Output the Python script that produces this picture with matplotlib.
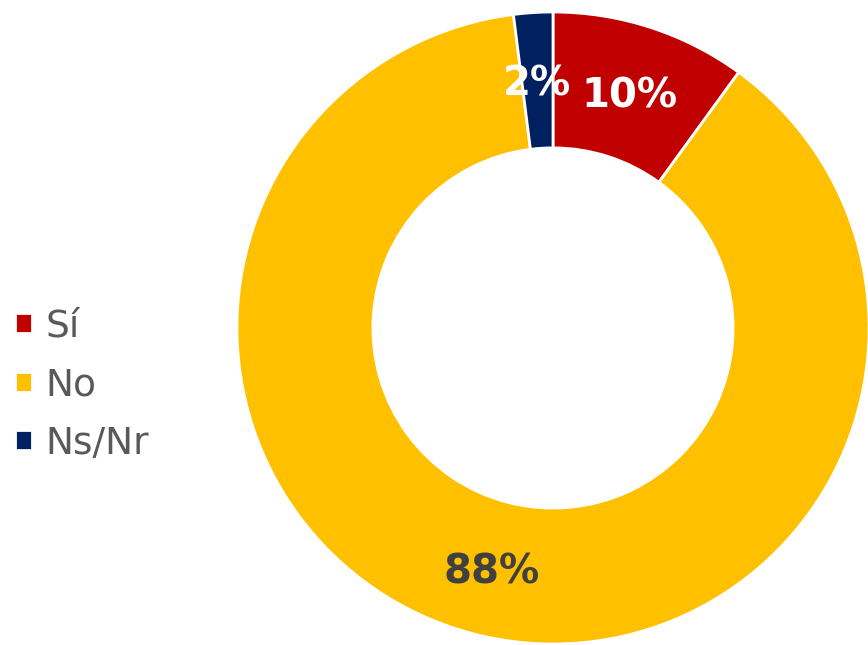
import matplotlib
matplotlib.use('Agg')
import matplotlib.pyplot as plt

# data
labels = ['Sí', 'No', 'Ns/Nr']
values = [10, 88, 2]
colors = ['#C00000', '#FFC000', '#002060']
pct_colors = ['white', '#404040', 'white']

fig = plt.figure(figsize=(8.68, 6.45), dpi=100)
# donut centred at (553, 329) px, radius ~316 px
ax = fig.add_axes([237 / 868, 1 / 645, 632 / 868, 632 / 645])

wedges, texts, autotexts = ax.pie(
    values, colors=colors, startangle=90, counterclock=False,
    autopct=lambda p: f'{p:.0f}%', pctdistance=0.785,
    wedgeprops=dict(width=0.43, edgecolor='white', linewidth=2),
)
for t, c in zip(autotexts, pct_colors):
    t.set_color(c)
    t.set_fontsize(29)
    t.set_fontweight('bold')
    t.set_va('center_baseline')
ax.set_aspect('equal')
ax.set_xlim(-1, 1)
ax.set_ylim(-1, 1)
for w in wedges:
    w.set_clip_on(False)

fig.legend(wedges, labels, loc='center left', bbox_to_anchor=(15 / 868, 0.403),
           frameon=False, fontsize=27, labelcolor='#595959',
           handlelength=0.46, handleheight=0.46, handletextpad=0.35,
           labelspacing=0.6, borderpad=0, borderaxespad=0)

fig.savefig('out.png', dpi=100)
